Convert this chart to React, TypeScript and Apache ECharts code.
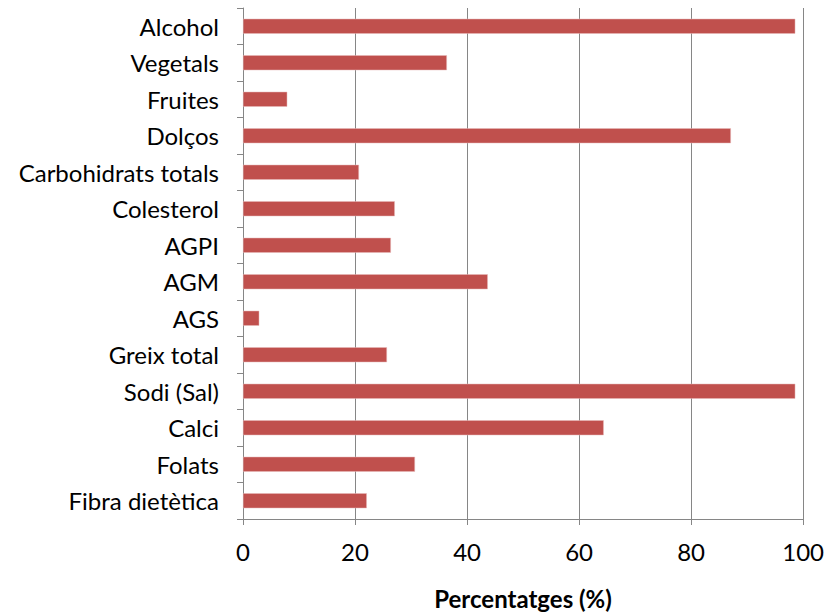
import React, { useEffect, useRef } from "react";
import * as echarts from "echarts";

const categories = [
  "Alcohol",
  "Vegetals",
  "Fruites",
  "Dolços",
  "Carbohidrats totals",
  "Colesterol",
  "AGPI",
  "AGM",
  "AGS",
  "Greix total",
  "Sodi (Sal)",
  "Calci",
  "Folats",
  "Fibra dietètica",
];
const values = [98.6, 36.4, 7.9, 87.1, 20.7, 27.1, 26.4, 43.7, 2.9, 25.7, 98.6, 64.4, 30.7, 22.1];
const xTicks = { min: 0, max: 100, interval: 20 };
const xName = "Percentatges (%)";

const FONT = "Lato, 'Open Sans', sans-serif";

export default function App() {
  const ref = useRef<HTMLDivElement>(null);
  useEffect(() => {
    if (!ref.current) return;
    const chart = echarts.init(ref.current, undefined, { renderer: "svg" });
    chart.setOption({
      animation: false,
      backgroundColor: "#ffffff",
      grid: { left: 243, right: 21, top: 8, bottom: 82, containLabel: false },
      xAxis: {
        type: "value",
        min: xTicks.min,
        max: xTicks.max,
        interval: xTicks.interval,
        name: xName,
        nameLocation: "middle",
        nameGap: 67,
        nameTextStyle: { fontFamily: FONT, fontSize: 24, fontWeight: "bold", color: "#000" },
        axisLine: { show: true, lineStyle: { color: "#868686", width: 1 } },
        axisTick: { show: true, length: 6, inside: false, lineStyle: { color: "#868686" } },
        axisLabel: { fontFamily: FONT, fontSize: 24, color: "#000", margin: 20 },
        splitLine: { show: true, lineStyle: { color: "#868686", width: 1 } },
      },
      yAxis: {
        type: "category",
        data: categories,
        inverse: true,
        axisLine: { show: true, lineStyle: { color: "#868686", width: 1 } },
        axisTick: { show: true, length: 6, alignWithLabel: false, lineStyle: { color: "#868686" } },
        axisLabel: { fontFamily: FONT, fontSize: 24, color: "#000", margin: 24 },
        splitLine: { show: false },
      },
      series: [
        {
          type: "bar",
          data: values,
          barWidth: 15,
          itemStyle: { color: "#C0504D", borderColor: "#E6B9B8", borderWidth: 0.5 },
        },
      ],
    });
    return () => chart.dispose();
  }, []);
  return (
    <div
      ref={ref}
      style={{ position: "fixed", left: 0, top: 0, width: 827, height: 615 }}
    />
  );
}
